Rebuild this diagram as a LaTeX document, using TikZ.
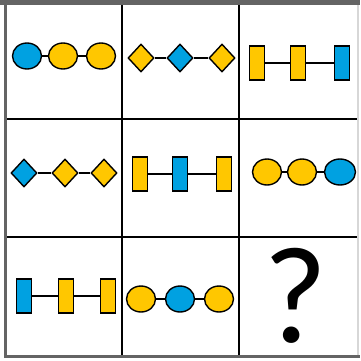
\documentclass[tikz,border=0pt]{standalone}
\usepackage{fontspec}
\setmainfont{Carlito}
\usetikzlibrary{shapes.geometric, positioning}
\definecolor{GlyBlue}{RGB}{0,161,225}
\definecolor{GlyYellow}{RGB}{255,199,0}
\definecolor{FrameGray}{RGB}{100,100,100}
\definecolor{EdgeGray}{RGB}{215,215,215}

\begin{document}
\begin{tikzpicture}[
      x=1pt, y=-1pt,
      disc/.style={ellipse, draw=black, line width=1.4pt, minimum width=29pt,
                   minimum height=26pt, inner sep=0pt},
      gem/.style={diamond, draw=black, line width=1.4pt, minimum width=26pt,
                  minimum height=28pt, inner sep=0pt},
      bar/.style={rectangle, draw=black, line width=1.8pt, minimum width=15pt,
                  minimum height=34pt, inner sep=0pt},
      link/.style={draw=black, line width=1.3pt},
      boldlink/.style={draw=black, line width=2.8pt},
      grid line/.style={draw=black, line width=2pt}
    ]
      \useasboundingbox (0,0) rectangle (360,361);

      % grid
      \draw[grid line] (122,3) -- (122,356);
      \draw[grid line] (239,3) -- (239,356);
      \draw[grid line] (6,119) -- (358,119);
      \draw[grid line] (6,237) -- (358,237);
      \draw[EdgeGray, line width=1.5pt] (358,3) -- (358,356);
      \draw[FrameGray, line width=5pt] (0,2.5) -- (360,2.5);
      \draw[FrameGray, line width=3pt] (5.5,0) -- (5.5,358);
      \draw[FrameGray, line width=3pt] (4,356.5) -- (360,356.5);

      % row 1
      \node[disc, fill=GlyBlue] (a1) at (27,56) {};
      \node[disc, fill=GlyYellow] (a2) at (63,56) {};
      \node[disc, fill=GlyYellow] (a3) at (101,56) {};
      \draw[boldlink] (a1) -- (a2);
      \draw[boldlink] (a2) -- (a3);

      \node[gem, fill=GlyYellow] (b1) at (141,58) {};
      \node[gem, fill=GlyBlue] (b2) at (180,58) {};
      \node[gem, fill=GlyYellow] (b3) at (222,58) {};
      \draw[boldlink] (b1) -- (b2);
      \draw[boldlink] (b2) -- (b3);

      \node[bar, fill=GlyYellow] (c1) at (257,63) {};
      \node[bar, fill=GlyYellow] (c2) at (298,63) {};
      \node[bar, fill=GlyBlue] (c3) at (342,63) {};
      \draw[link] (c1) -- (c2);
      \draw[link] (c2) -- (c3);

      % row 2
      \node[gem, fill=GlyBlue] (d1) at (24,173) {};
      \node[gem, fill=GlyYellow] (d2) at (65,173) {};
      \node[gem, fill=GlyYellow] (d3) at (104,173) {};
      \draw[link] (d1) -- (d2);
      \draw[link] (d2) -- (d3);

      \node[bar, fill=GlyYellow] (e1) at (140,174) {};
      \node[bar, fill=GlyBlue] (e2) at (180,174) {};
      \node[bar, fill=GlyYellow] (e3) at (224,174) {};
      \draw[link] (e1) -- (e2);
      \draw[link] (e2) -- (e3);

      \node[disc, fill=GlyYellow] (f1) at (267,172) {};
      \node[disc, fill=GlyYellow] (f2) at (302,172) {};
      \node[disc, fill=GlyBlue, minimum width=31pt] (f3) at (340,172) {};
      \draw[link] (f1) -- (f2);
      \draw[link] (f2) -- (f3);

      % row 3
      \node[bar, fill=GlyBlue] (g1) at (24,296) {};
      \node[bar, fill=GlyYellow] (g2) at (66,296) {};
      \node[bar, fill=GlyYellow] (g3) at (108,296) {};
      \draw[boldlink] (g1) -- (g2);
      \draw[boldlink] (g2) -- (g3);

      \node[disc, fill=GlyYellow] (h1) at (141,299) {};
      \node[disc, fill=GlyBlue] (h2) at (180,299) {};
      \node[disc, fill=GlyYellow] (h3) at (219,299) {};
      \draw[link] (h1) -- (h2);
      \draw[link] (h2) -- (h3);

      \node[inner sep=0pt, font=\fontsize{138}{138}\selectfont] (ask) at (295,296) {?};
    \end{tikzpicture}
\end{document}
